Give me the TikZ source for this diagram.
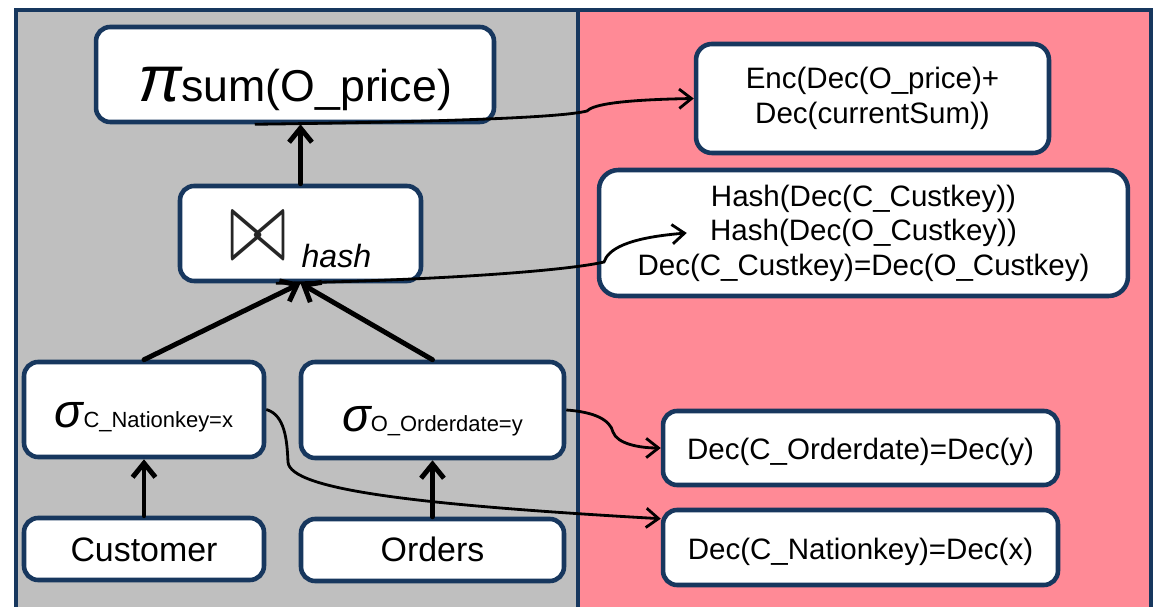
\documentclass[tikz,border=0pt]{standalone}
\usepackage{fontspec}
\setmainfont{Liberation Sans}
\usetikzlibrary{arrows.meta,calc}
\definecolor{frameblue}{RGB}{23,55,94}
\definecolor{hostgray}{RGB}{191,191,191}
\definecolor{fpgapink}{RGB}{255,138,150}

\begin{document}
\begin{tikzpicture}[x=0.02cm,y=-0.02cm,
  box/.style={draw=frameblue, line width=2.6pt, fill=white, rounded corners=8pt, inner sep=0pt},
  oneline/.style={text depth=0pt, text height=#1},
  tree/.style={line width=2.8pt, line cap=round, -{Straight Barb[length=8pt,width=13pt]}},
  link/.style={line width=1.6pt, -{Straight Barb[length=7pt,width=11pt]}},
  bigtxt/.style={font=\fontsize{19.3pt}{23pt}\selectfont},
  optxt/.style={font=\fontsize{16.8pt}{19.6pt}\selectfont, align=center},
]
\useasboundingbox (0,0) rectangle (1159,607);
\clip (0,0) rectangle (1159,607);

% host side and accelerator side
\fill[hostgray] (16,10) rectangle (578,620);
\fill[fpgapink] (578,10) rectangle (1151,620);
\draw[frameblue, line width=2.8pt] (16,620) -- (16,10) -- (1151,10) -- (1151,620);
\draw[frameblue, line width=2.8pt] (578,10) -- (578,620);

% query plan
\node[box, oneline=31.3pt, minimum width=7.96cm, minimum height=1.9cm] (pi) at (295,74.5)
  {{\fontsize{37pt}{37pt}\selectfont\itshape π}{\fontsize{25.4pt}{30pt}\selectfont sum(O\_price)}};
\node[box, oneline=39.2pt, minimum width=4.82cm, minimum height=1.9cm] (join) at (300.5,233.5)
  {\raisebox{4.5pt}{\color{black!85}\resizebox{1.14cm}{0.94cm}{$\bowtie$}}\hspace{8.5pt}{\fontsize{18.3pt}{22pt}\selectfont\itshape hash}};
\node[box, oneline=21pt, minimum width=4.8cm, minimum height=1.9cm] (sc) at (144,409.5)
  {{\fontsize{27pt}{27pt}\selectfont\itshape σ}{\fontsize{12.5pt}{14pt}\selectfont C\_Nationkey=x}};
\node[box, oneline=24pt, minimum width=5.26cm, minimum height=1.92cm] (so) at (432.5,410)
  {{\fontsize{27pt}{27pt}\selectfont\itshape σ}{\fontsize{12.5pt}{14pt}\selectfont O\_Orderdate=y}};
\node[box, bigtxt, oneline=14.7pt, minimum width=4.8cm, minimum height=1.24cm] (cust) at (144,549) {Customer};
\node[box, bigtxt, oneline=13.6pt, minimum width=5.26cm, minimum height=1.24cm] (ord) at (432.5,550) {Orders};

% operations evaluated on the accelerator
\node[box, optxt, minimum width=7.06cm, minimum height=2.18cm, rounded corners=9pt] (enc) at (872.5,98.5)
  {Enc(Dec(O\_price)+\\Dec(currentSum))};
\node[box, optxt, minimum width=10.58cm, minimum height=2.52cm, rounded corners=11pt] (hsh) at (863.5,233)
  {Hash(Dec(C\_Custkey))\\Hash(Dec(O\_Custkey))\\Dec(C\_Custkey)=Dec(O\_Custkey)};
\node[box, font=\fontsize{16.8pt}{19.6pt}\selectfont, oneline=13.6pt, minimum width=7.9cm, minimum height=1.48cm] (dord) at (860.5,448)
  {Dec(C\_Orderdate)=Dec(y)};
\node[box, font=\fontsize{16.8pt}{19.6pt}\selectfont, oneline=14.2pt, minimum width=7.9cm, minimum height=1.5cm] (dnat) at (860.5,547.5)
  {Dec(C\_Nationkey)=Dec(x)};

% data flow of the plan
\draw[tree] (join.north) -- (join.north |- pi.south);
\draw[tree] (sc.north) -- (join.south);
\draw[tree] (so.north) -- (join.south);
\draw[tree] (cust.north) -- (sc.south);
\draw[tree] (ord.north) -- (so.south);

% offloaded work
\draw[link] ($(pi.south west)!0.40!(pi.south east)$) .. controls (430,122) and (560,118) .. (587,111)
  .. controls (592,106) and (610,100) .. (enc.west);
\draw[link] ($(join.south west)!0.40!(join.south east)$) .. controls (450,280) and (570,270) .. (604,262)
  .. controls (608,250) and (625,238) .. ([xshift=1.8cm]hsh.west);
\draw[link] (so.east) .. controls (595,412) and (610,420) .. (613,432)
  .. controls (617,444) and (640,448) .. (dord.west);
\draw[link] (sc.east) .. controls (285,415) and (287,440) .. (288,462)
  .. controls (290,490) and (420,505) .. ([yshift=-0.22cm]dnat.north west);
\end{tikzpicture}
\end{document}
